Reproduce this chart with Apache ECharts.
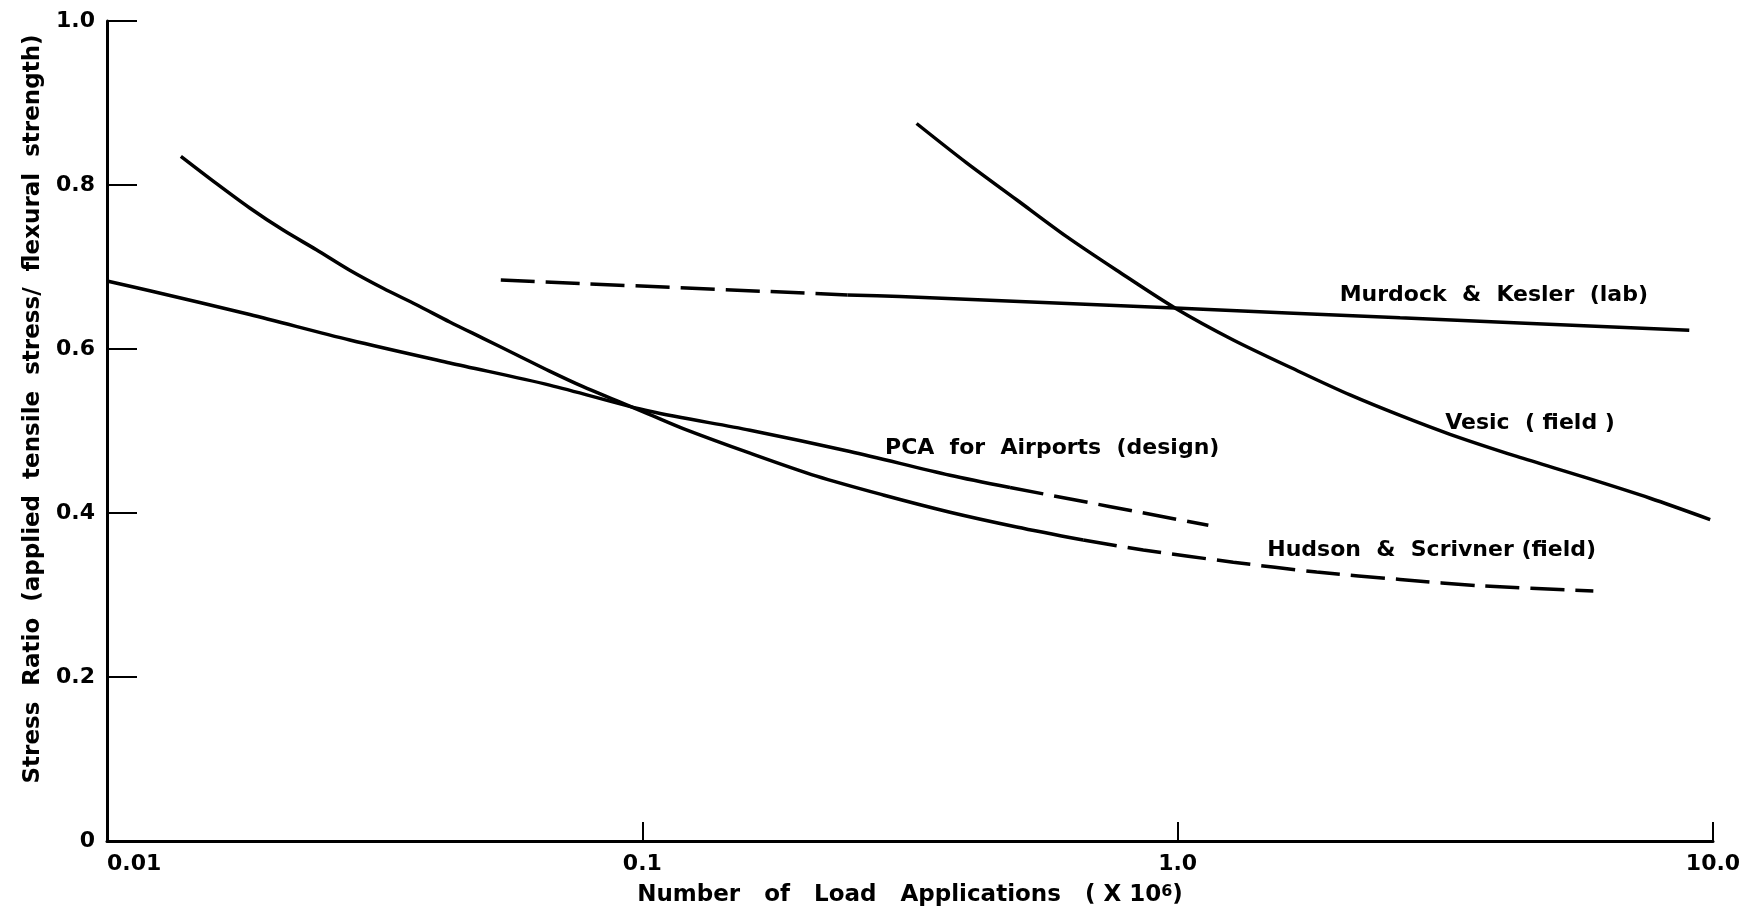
<!DOCTYPE html>
<html>
<head>
<meta charset="utf-8">
<script src="https://cdn.jsdelivr.net/npm/echarts@6/dist/echarts.min.js"></script>
<style>
  html, body { margin: 0; padding: 0; background: #fff; }
  #chart { width: 1753px; height: 919px; }
</style>
</head>
<body>
<div id="chart"></div>
<script>
// x: load applications (x 10^6), y: stress ratio
var xTickLabels = ['0.01', '0.1', '1.0', '10.0'];
var yTickLabels = ['0', '0.2', '0.4', '0.6', '0.8', '1.0'];

var murdockDashed = [[0.0544, 0.684], [0.2416, 0.666]];
var murdockSolid = [[0.2416, 0.666], [0.3028, 0.664], [0.9885, 0.650], [2.603, 0.638], [9.03, 0.623]];

var vesic = [[0.3253, 0.875], [0.4034, 0.827], [0.5002, 0.782], [0.6203, 0.737], [0.7691, 0.696],
  [0.9885, 0.650], [1.27, 0.611], [1.693, 0.572], [2.099, 0.544], [2.603, 0.519], [3.227, 0.496],
  [4.30, 0.469], [5.73, 0.444], [7.63, 0.418], [9.88, 0.392]];

var pcaSolid = [[0.01, 0.683], [0.01202, 0.671], [0.01848, 0.642], [0.02841, 0.611], [0.04368, 0.583],
  [0.0671, 0.556], [0.1033, 0.524], [0.1589, 0.501], [0.2443, 0.475], [0.3756, 0.446], [0.4862, 0.431]];
var pcaDashed = [[0.4862, 0.431], [1.141, 0.385]];

var hudsonSolid = [[0.01374, 0.835], [0.0160, 0.802], [0.01848, 0.772], [0.02133, 0.745], [0.02461, 0.721],
  [0.02841, 0.696], [0.03279, 0.674], [0.03785, 0.654], [0.04368, 0.633], [0.05042, 0.613],
  [0.05818, 0.593], [0.0671, 0.573], [0.0775, 0.554], [0.0895, 0.537], [0.1033, 0.520],
  [0.1192, 0.503], [0.1589, 0.473], [0.2116, 0.445], [0.2818, 0.422], [0.3756, 0.401],
  [0.5002, 0.383], [0.6661, 0.367]];
var hudsonDashed = [[0.6661, 0.367], [0.8624, 0.355], [1.27, 0.340], [1.818, 0.328],
  [2.603, 0.319], [3.725, 0.311], [5.977, 0.305]];

var curveLabels = [
  { name: 'Murdock  &  Kesler  (lab)', value: [2.007, 0.666] },
  { name: 'Vesic  ( field )', value: [3.16, 0.510] },
  { name: 'Hudson  &  Scrivner (field)', value: [1.47, 0.355] },
  { name: 'PCA  for  Airports  (design)', value: [0.284, 0.479] }
];

var font = 'DejaVu Sans';
var dash = [34, 11];

function line(data, dashed) {
  return {
    type: 'line',
    data: data,
    symbol: 'none',
    smooth: 0.3,
    silent: true,
    lineStyle: { color: '#000', width: 3.5, type: dashed ? dash : 'solid' }
  };
}

var myChart = echarts.init(document.getElementById('chart'), null, { renderer: 'canvas' });

var option = {
  backgroundColor: '#fff',
  animation: false,
  grid: { left: 107, right: 40, top: 21, bottom: 78 },
  xAxis: {
    type: 'log',
    logBase: 10,
    min: 0.01,
    max: 10,
    name: 'Number   of   Load   Applications   ( X 10{sup|6})',
    nameLocation: 'middle',
    nameGap: 43,
    nameTextStyle: {
      color: '#000', fontFamily: font, fontWeight: 'bold', fontSize: 23,
      rich: { sup: { fontSize: 16, fontFamily: font, fontWeight: 'bold', verticalAlign: 'top', color: '#000' } }
    },
    axisLine: { lineStyle: { color: '#000', width: 3 } },
    axisTick: { inside: true, length: 19, lineStyle: { color: '#000', width: 2 } },
    splitLine: { show: false },
    axisLabel: {
      color: '#000', fontFamily: font, fontWeight: 'bold', fontSize: 22, margin: 12,
      alignMinLabel: 'left',
      formatter: function (v) { return xTickLabels[Math.round(Math.log10(v)) + 2]; }
    }
  },
  yAxis: {
    type: 'value',
    min: 0,
    max: 1,
    interval: 0.2,
    name: 'Stress  Ratio  (applied  tensile  stress/  flexural  strength)',
    nameLocation: 'middle',
    nameGap: 62,
    nameTextStyle: { color: '#000', fontFamily: font, fontWeight: 'bold', fontSize: 23, padding: [0, 0, 0, 44] },
    axisLine: { show: true, lineStyle: { color: '#000', width: 3 } },
    axisTick: { show: true, inside: true, length: 30, lineStyle: { color: '#000', width: 2 } },
    splitLine: { show: false },
    axisLabel: {
      color: '#000', fontFamily: font, fontWeight: 'bold', fontSize: 22, margin: 12,
      formatter: function (v) { return yTickLabels[Math.round(v * 5)]; }
    }
  },
  series: [
    line(murdockDashed, true),
    line(murdockSolid, false),
    line(vesic, false),
    line(pcaSolid, false),
    line(pcaDashed, true),
    line(hudsonSolid, false),
    line(hudsonDashed, true),
    {
      type: 'scatter',
      data: curveLabels,
      symbolSize: 0,
      silent: true,
      itemStyle: { opacity: 1 },
      label: {
        show: true,
        position: 'right',
        distance: 0,
        formatter: '{b}',
        color: '#000',
        fontFamily: font,
        fontWeight: 'bold',
        fontSize: 22
      }
    }
  ]
};

myChart.setOption(option);
window.addEventListener('resize', myChart.resize);
</script>
</body>
</html>
